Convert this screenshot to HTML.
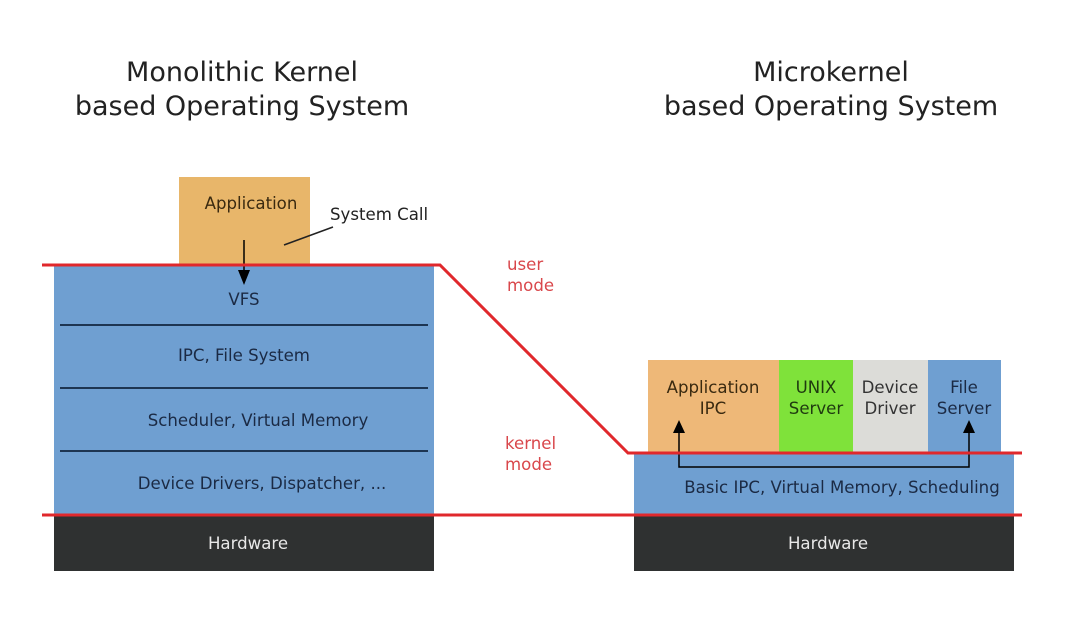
<!DOCTYPE html>
<html><head><meta charset="utf-8"><style>
html,body{margin:0;padding:0;background:#fff;}
svg{display:block;}
text{font-family:"DejaVu Sans","Liberation Sans",sans-serif;}
</style></head><body>
<svg width="1071" height="622" viewBox="0 0 1071 622" xmlns="http://www.w3.org/2000/svg">
<rect width="1071" height="622" fill="#fff"/>
<g font-size="27" fill="#222" text-anchor="middle">
<text x="242" y="81">Monolithic Kernel</text>
<text x="242" y="115">based Operating System</text>
<text x="831" y="81">Microkernel</text>
<text x="831" y="115">based Operating System</text>
</g>
<!-- left -->
<rect x="179" y="177" width="131" height="89" fill="#e8b66a"/>
<rect x="54" y="266" width="380" height="249" fill="#6f9fd1"/>
<g stroke="#1d3552" stroke-width="2">
<line x1="60" y1="325" x2="428" y2="325"/>
<line x1="60" y1="388" x2="428" y2="388"/>
<line x1="60" y1="451" x2="428" y2="451"/>
</g>
<rect x="54" y="516" width="380" height="55" fill="#2f3131"/>
<g font-size="16.6" fill="#1b2a44" text-anchor="middle">
<text x="251" y="209" fill="#3a2a10">Application</text>
<text x="244" y="305">VFS</text>
<text x="244" y="361">IPC, File System</text>
<text x="258" y="426">Scheduler, Virtual Memory</text>
<text x="262" y="489">Device Drivers, Dispatcher, ...</text>
<text x="248" y="549" fill="#e8e8e8">Hardware</text>
</g>
<text x="330" y="220" font-size="16.6" fill="#222">System Call</text>
<line x1="284" y1="245" x2="333" y2="227" stroke="#222" stroke-width="1.5"/>
<line x1="244" y1="240" x2="244" y2="272" stroke="#000" stroke-width="1.5"/>
<polygon points="238,270 250,270 244,285" fill="#000"/>
<!-- right -->
<rect x="648" y="360" width="131" height="94" fill="#eeb878"/>
<rect x="779" y="360" width="74" height="94" fill="#7fe23a"/>
<rect x="853" y="360" width="75" height="94" fill="#dcdcd8"/>
<rect x="928" y="360" width="73" height="94" fill="#6f9fd1"/>
<rect x="634" y="454" width="380" height="61" fill="#6f9fd1"/>
<rect x="634" y="516" width="380" height="55" fill="#2f3131"/>
<g font-size="16.6" text-anchor="middle">
<text x="713" y="393" fill="#3a2a10">Application</text>
<text x="713" y="414" fill="#3a2a10">IPC</text>
<text x="816" y="393" fill="#1f3a10">UNIX</text>
<text x="816" y="414" fill="#1f3a10">Server</text>
<text x="890" y="393" fill="#333">Device</text>
<text x="890" y="414" fill="#333">Driver</text>
<text x="964" y="393" fill="#1b2a44">File</text>
<text x="964" y="414" fill="#1b2a44">Server</text>
<text x="842" y="493" fill="#1b2a44">Basic IPC, Virtual Memory, Scheduling</text>
<text x="828" y="549" fill="#e8e8e8">Hardware</text>
</g>
<polyline points="679,432 679,467 969,467 969,432" fill="none" stroke="#000" stroke-width="1.5"/>
<polygon points="673,433 685,433 679,420" fill="#000"/>
<polygon points="963,433 975,433 969,420" fill="#000"/>
<!-- red lines -->
<polyline points="42,265 440,265 628,453 1022,453" fill="none" stroke="#e0282c" stroke-width="3"/>
<line x1="42" y1="515" x2="1022" y2="515" stroke="#e0282c" stroke-width="3"/>
<g font-size="16.6" fill="#d9474b">
<text x="507" y="270">user</text>
<text x="507" y="291">mode</text>
<text x="505" y="449">kernel</text>
<text x="505" y="470">mode</text>
</g>
</svg>
</body></html>
